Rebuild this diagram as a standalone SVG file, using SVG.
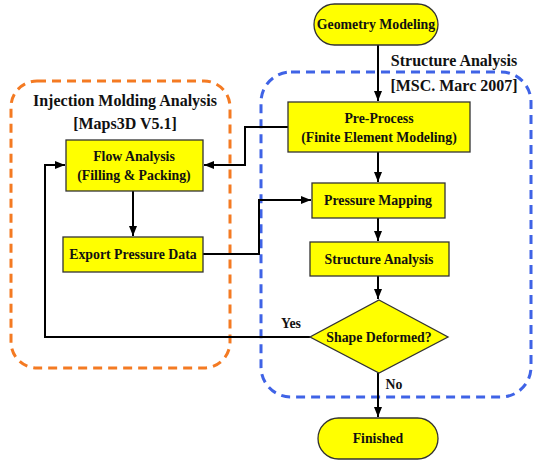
<svg xmlns="http://www.w3.org/2000/svg" width="537" height="461" viewBox="0 0 537 461">
<defs>
<marker id="ah" viewBox="0 0 10 10" refX="10" refY="5" markerWidth="10" markerHeight="10" markerUnits="userSpaceOnUse" orient="auto">
<path d="M0,1 L10,5 L0,9 Z" fill="#000"/>
</marker>
</defs>
<style>
.node{fill:#FFFF00;stroke:#333;stroke-width:1.3}
.t{font-family:"Liberation Serif","Times New Roman",serif;font-weight:bold;font-size:13.8px;fill:#111;text-anchor:middle}
.lbl{font-family:"Liberation Serif","Times New Roman",serif;font-weight:bold;font-size:16px;fill:#111;text-anchor:middle}
.c{fill:none;stroke:#000;stroke-width:2}
.grp{fill:none;stroke-width:3;stroke-dasharray:9 6}
</style>
<rect width="537" height="461" fill="#fff"/>
<g id="group-injection">
<rect class="grp" x="11" y="81" width="219" height="287" rx="26" stroke="#F47A22"/>
<text class="lbl" x="125" y="106">Injection Molding Analysis</text>
<text class="lbl" x="125" y="129">[Maps3D V5.1]</text>
</g>
<g id="group-structure">
<rect class="grp" x="261" y="72" width="270" height="325" rx="30" stroke="#3F63E6"/>
<text class="lbl" x="454" y="66">Structure Analysis</text>
<text class="lbl" x="454" y="91">[MSC. Marc 2007]</text>
</g>
<g id="connectors">
<path class="c" d="M378,45 V101" marker-end="url(#ah)"/>
<path class="c" d="M288,127 H245 V165 H204" marker-end="url(#ah)"/>
<path class="c" d="M133,191 V236" marker-end="url(#ah)"/>
<path class="c" d="M203,254 H259 V200 H311" marker-end="url(#ah)"/>
<path class="c" d="M378,152 V182" marker-end="url(#ah)"/>
<path class="c" d="M378,218 V241" marker-end="url(#ah)"/>
<path class="c" d="M378,276 V299" marker-end="url(#ah)"/>
<path class="c" d="M378,373 V417" marker-end="url(#ah)"/>
<path class="c" d="M310,337 H45 V165 H65" marker-end="url(#ah)"/>
<text class="t" x="291" y="328">Yes</text>
<text class="t" x="394" y="389">No</text>
</g>
<g id="geometry-modeling">
<rect class="node" x="314" y="4" width="124" height="41" rx="20.5"/>
<text class="t" x="376" y="29">Geometry Modeling</text>
</g>
<g id="pre-process">
<rect class="node" x="288" y="102" width="182" height="50"/>
<text class="t" x="379" y="123">Pre-Process</text>
<text class="t" x="379" y="142">(Finite Element Modeling)</text>
</g>
<g id="flow-analysis">
<rect class="node" x="66" y="140" width="137" height="51"/>
<text class="t" x="134" y="161">Flow Analysis</text>
<text class="t" x="134" y="180">(Filling &amp; Packing)</text>
</g>
<g id="export-pressure-data">
<rect class="node" x="63" y="237" width="140" height="35"/>
<text class="t" x="133" y="259">Export Pressure Data</text>
</g>
<g id="pressure-mapping">
<rect class="node" x="312" y="183" width="133" height="35"/>
<text class="t" x="378" y="205">Pressure Mapping</text>
</g>
<g id="structure-analysis">
<rect class="node" x="310" y="242" width="139" height="34"/>
<text class="t" x="379" y="264">Structure Analysis</text>
</g>
<g id="shape-deformed">
<polygon class="node" points="379,300 448,337 379,373 310,337"/>
<text class="t" x="379" y="342">Shape Deformed?</text>
</g>
<g id="finished">
<rect class="node" x="318" y="418" width="120" height="41" rx="20.5"/>
<text class="t" x="378" y="443">Finished</text>
</g>
</svg>
